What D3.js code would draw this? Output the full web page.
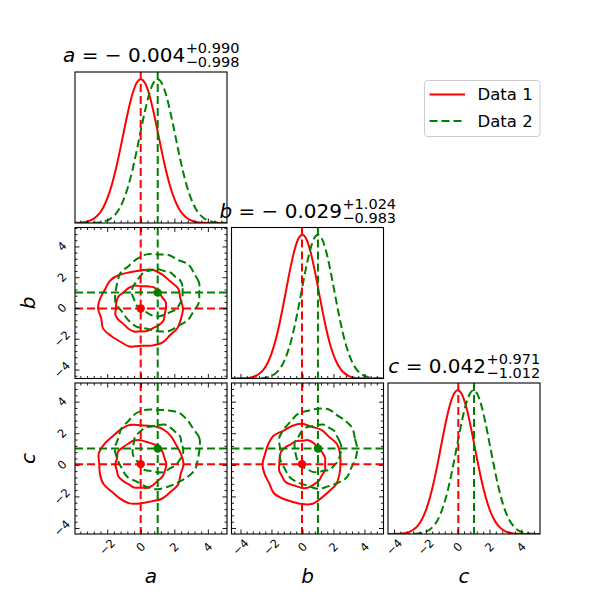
<!DOCTYPE html>
<html>
<head>
<meta charset="utf-8">
<script src="https://cdn.jsdelivr.net/npm/d3@7"></script>
<style>
  body { margin: 0; background: #fff; }
  svg { display: block; font-family: "DejaVu Sans", sans-serif; }
</style>
</head>
<body>
<div id="chart"></div>
<script>
// parameters and axis extents
const params = ["a", "b", "c"];
const extents = [[-3.92, 5.14], [-4.58, 5.23], [-4.38, 5.18]];
const majorTicks = [-4, -2, 0, 2, 4];
const minorStep = 0.4;

const seriesNames = ["Data 1", "Data 2"];
const colors = ["#ff0000", "#008000"];
const means1 = [-0.004, -0.029, 0.042];
const means2 = [1.01, 1.0, 1.03];
const errUp = [0.990, 1.024, 0.971];
const errLo = [0.998, 0.983, 1.012];

// marginal densities (relative to peak) on a 0.25 grid from -5 to 6
const gridX = d3.range(-5, 6.001, 0.25);
const densA1 = [0,0,0,0,.001,.002,.004,.009,.018,.035,.062,.105,.169,.256,.367,.499,.641,.779,.895,.973,1,.973,.895,.779,.641,.499,.367,.256,.169,.105,.062,.035,.018,.009,.004,.002,.001,0,0,0,0,0,0,0,0];
const densA2 = [0,0,0,0,0,0,0,0,.001,.002,.004,.009,.018,.035,.062,.105,.169,.256,.367,.499,.641,.779,.895,.973,1,.973,.895,.779,.641,.499,.367,.256,.169,.105,.062,.035,.018,.009,.004,.002,.001,0,0,0,0];
const densB1 = [0,0,0,0,.001,.002,.004,.009,.019,.036,.064,.108,.172,.260,.372,.504,.646,.783,.898,.975,1,.970,.890,.773,.635,.493,.362,.251,.165,.102,.060,.034,.017,.008,.004,.002,.001,0,0,0,0,0,0,0,0];
const densB2 = [0,0,0,0,0,0,0,0,.001,.002,.004,.009,.018,.035,.062,.105,.169,.256,.367,.499,.641,.779,.895,.973,1,.973,.895,.779,.641,.499,.367,.256,.169,.105,.062,.035,.018,.009,.004,.002,.001,0,0,0,0];
const densC1 = [0,0,0,0,.001,.002,.004,.008,.017,.033,.059,.101,.164,.250,.361,.493,.636,.775,.892,.971,1,.976,.900,.785,.648,.506,.374,.262,.174,.109,.065,.037,.019,.009,.004,.002,.001,0,0,0,0,0,0,0,0];
const densC2 = [0,0,0,0,0,0,0,0,0,.001,.003,.007,.015,.031,.057,.099,.162,.249,.361,.494,.637,.776,.893,.972,1,.971,.891,.773,.634,.491,.358,.246,.159,.097,.056,.030,.015,.007,.003,.001,0,0,0,0,0];
const dens = [[densA1, densA2], [densB1, densB2], [densC1, densC2]];

// contour radii (68% and 95%) at 24 angles, every 15 degrees
const angles = [0,15,30,45,60,75,90,105,120,135,150,165,180,195,210,225,240,255,270,285,300,315,330,345];
const abRed68 = [1.50,1.55,1.47,1.52,1.58,1.49,1.45,1.53,1.51,1.46,1.54,1.50,1.48,1.56,1.51,1.44,1.50,1.55,1.49,1.52,1.47,1.53,1.57,1.48];
const abRed95 = [2.52,2.45,2.58,2.49,2.55,2.61,2.47,2.43,2.53,2.57,2.46,2.50,2.54,2.44,2.59,2.51,2.48,2.56,2.42,2.50,2.57,2.47,2.53,2.49];
const abGreen68 = [1.48,1.53,1.56,1.47,1.51,1.45,1.54,1.50,1.57,1.49,1.46,1.52,1.55,1.48,1.50,1.53,1.44,1.51,1.56,1.49,1.47,1.54,1.50,1.52];
const abGreen95 = [2.47,2.55,2.50,2.59,2.44,2.53,2.48,2.57,2.51,2.45,2.56,2.49,2.52,2.60,2.46,2.50,2.55,2.43,2.51,2.58,2.48,2.53,2.46,2.54];
const acRed68 = [1.53,1.47,1.51,1.56,1.48,1.45,1.52,1.55,1.49,1.50,1.57,1.46,1.51,1.48,1.54,1.50,1.46,1.53,1.49,1.55,1.51,1.47,1.52,1.50];
const acRed95 = [2.55,2.48,2.44,2.53,2.58,2.50,2.46,2.56,2.49,2.43,2.52,2.59,2.47,2.51,2.55,2.45,2.50,2.57,2.48,2.44,2.53,2.50,2.58,2.46];
const acGreen68 = [1.51,1.46,1.54,1.49,1.53,1.57,1.48,1.45,1.52,1.50,1.55,1.47,1.49,1.53,1.46,1.51,1.56,1.48,1.50,1.54,1.45,1.52,1.49,1.55];
const acGreen95 = [2.50,2.57,2.46,2.52,2.60,2.49,2.45,2.54,2.58,2.47,2.51,2.44,2.56,2.50,2.48,2.55,2.43,2.52,2.57,2.49,2.46,2.53,2.59,2.48];
const bcRed68 = [1.49,1.54,1.50,1.46,1.53,1.57,1.48,1.51,1.45,1.52,1.56,1.49,1.47,1.53,1.50,1.55,1.48,1.44,1.51,1.54,1.49,1.52,1.46,1.53];
const bcRed95 = [2.48,2.54,2.59,2.46,2.51,2.45,2.56,2.50,2.43,2.57,2.52,2.47,2.55,2.49,2.44,2.58,2.51,2.46,2.53,2.60,2.48,2.45,2.54,2.50];
const bcGreen68 = [1.52,1.48,1.45,1.53,1.50,1.56,1.49,1.47,1.54,1.51,1.46,1.55,1.50,1.48,1.53,1.57,1.47,1.51,1.49,1.45,1.54,1.50,1.52,1.48];
const bcGreen95 = [2.53,2.47,2.56,2.50,2.44,2.58,2.52,2.48,2.55,2.46,2.51,2.59,2.45,2.53,2.49,2.57,2.50,2.44,2.55,2.48,2.52,2.61,2.47,2.51];
// key: "col,row"
const contours = {
  "0,1": [[abRed68, abRed95], [abGreen68, abGreen95]],
  "0,2": [[acRed68, acRed95], [acGreen68, acGreen95]],
  "1,2": [[bcRed68, bcRed95], [bcGreen68, bcGreen95]],
};

const width = 600, height = 600;
const padLeft = 75, padTop = 72, pw = 152, ph = 151, gap = 4.5;
const dash = "8,4";

const svg = d3.select("#chart").append("svg")
  .attr("width", width).attr("height", height);

const means = [means1, means2];

function tickSets(ext) {
  const major = majorTicks.filter((v) => v >= ext[0] && v <= ext[1]);
  const minor = d3.range(Math.ceil(ext[0] / minorStep) * minorStep, ext[1], minorStep)
    .filter((v) => major.every((m) => Math.abs(m - v) > 1e-6));
  return { major, minor };
}

function addTicks(g, axisFn, scale, ext, size, offset) {
  const t = tickSets(ext);
  const ga = g.append("g").attr("transform", offset);
  ga.append("g").call(axisFn(scale).tickValues(t.minor).tickSize(-2.5).tickFormat(""));
  ga.append("g").call(axisFn(scale).tickValues(t.major).tickSize(-size).tickFormat(""));
  ga.selectAll(".domain").remove();
  ga.selectAll("line").attr("stroke", "#000").attr("stroke-width", 0.9);
  return t.major;
}

for (let row = 0; row < 3; row++) {
  for (let col = 0; col <= row; col++) {
    const x0 = padLeft + col * (pw + gap);
    const y0 = padTop + row * (ph + gap);
    const x = d3.scaleLinear().domain(extents[col]).range([x0, x0 + pw]);
    const diag = row === col;
    const y = diag
      ? d3.scaleLinear().domain([0, 1.05]).range([y0 + ph, y0])
      : d3.scaleLinear().domain(extents[row]).range([y0 + ph, y0]);

    const clipId = `clip-${col}-${row}`;
    svg.append("clipPath").attr("id", clipId)
      .append("rect").attr("x", x0).attr("y", y0).attr("width", pw).attr("height", ph);
    const g = svg.append("g").attr("clip-path", `url(#${clipId})`);

    if (diag) {
      const line = d3.line()
        .x((d, i) => x(gridX[i]))
        .y((d) => y(d))
        .curve(d3.curveMonotoneX);
      [0, 1].forEach((s) => {
        g.append("path")
          .attr("d", line(dens[col][s]))
          .attr("fill", "none")
          .attr("stroke", colors[s])
          .attr("stroke-width", 2)
          .attr("stroke-dasharray", s === 1 ? dash : null);
      });
      [0, 1].forEach((s) => {
        g.append("line")
          .attr("x1", x(means[s][col])).attr("x2", x(means[s][col]))
          .attr("y1", y0).attr("y2", y0 + ph)
          .attr("stroke", colors[s]).attr("stroke-width", 2)
          .attr("stroke-dasharray", dash);
      });
    } else {
      const cset = contours[`${col},${row}`];
      const cline = d3.line().curve(d3.curveCatmullRomClosed);
      [0, 1].forEach((s) => {
        const mx = means[s][col], my = means[s][row];
        cset[s].forEach((radii) => {
          const pts = radii.map((r, i) => {
            const t = (angles[i] * Math.PI) / 180;
            return [x(mx + r * Math.cos(t)), y(my + r * Math.sin(t))];
          });
          g.append("path")
            .attr("d", cline(pts))
            .attr("fill", "none")
            .attr("stroke", colors[s])
            .attr("stroke-width", 2)
            .attr("stroke-dasharray", s === 1 ? dash : null);
        });
      });
      [0, 1].forEach((s) => {
        const mx = means[s][col], my = means[s][row];
        g.append("line")
          .attr("x1", x(mx)).attr("x2", x(mx)).attr("y1", y0).attr("y2", y0 + ph)
          .attr("stroke", colors[s]).attr("stroke-width", 2).attr("stroke-dasharray", dash);
        g.append("line")
          .attr("x1", x0).attr("x2", x0 + pw).attr("y1", y(my)).attr("y2", y(my))
          .attr("stroke", colors[s]).attr("stroke-width", 2).attr("stroke-dasharray", dash);
      });
      [0, 1].forEach((s) => {
        g.append("circle")
          .attr("cx", x(means[s][col])).attr("cy", y(means[s][row]))
          .attr("r", 4.2).attr("fill", colors[s]);
      });
    }

    // ticks (inward)
    const ax = svg.append("g");
    const xMajor = addTicks(ax, d3.axisBottom, x, extents[col], 4.5, `translate(0,${y0 + ph})`);
    if (!diag) {
      addTicks(ax, d3.axisTop, x, extents[col], 4.5, `translate(0,${y0})`);
      addTicks(ax, d3.axisLeft, y, extents[row], 4.5, `translate(${x0},0)`);
      addTicks(ax, d3.axisRight, y, extents[row], 4.5, `translate(${x0 + pw},0)`);
    }

    // frame
    svg.append("rect")
      .attr("x", x0).attr("y", y0).attr("width", pw).attr("height", ph)
      .attr("fill", "none").attr("stroke", "#000").attr("stroke-width", 1.1);

    // tick labels
    if (row === 2) {
      const ly = y0 + ph + 13;
      xMajor.forEach((v) => {
        svg.append("text")
          .attr("x", x(v)).attr("y", ly).attr("dy", "0.35em")
          .attr("text-anchor", "middle").attr("font-size", 11.5)
          .attr("transform", `rotate(-45,${x(v)},${ly})`)
          .text(d3.format("")(v).replace("-", "\u2212"));
      });
      svg.append("text")
        .attr("x", x0 + pw / 2).attr("y", 583)
        .attr("text-anchor", "middle").attr("font-size", 20)
        .attr("font-style", "italic")
        .text(params[col]);
    }
    if (col === 0 && row > 0) {
      const lx = x0 - 13;
      tickSets(extents[row]).major.forEach((v) => {
        svg.append("text")
          .attr("x", lx).attr("y", y(v)).attr("dy", "0.35em")
          .attr("text-anchor", "middle").attr("font-size", 11.5)
          .attr("transform", `rotate(-45,${lx},${y(v)})`)
          .text(d3.format("")(v).replace("-", "\u2212"));
      });
      svg.append("text")
        .attr("transform", `translate(35,${y0 + ph / 2}) rotate(-90)`)
        .attr("text-anchor", "middle").attr("font-size", 20)
        .attr("font-style", "italic")
        .text(params[row]);
    }

    // title on diagonal
    if (diag) {
      const tg = svg.append("g");
      const base = y0 - 10;
      const main = tg.append("text").attr("x", 0).attr("y", base).attr("font-size", 20);
      main.append("tspan").attr("font-style", "italic").text(params[col]);
      const m = means1[col];
      main.append("tspan").text(" = " + (m < 0 ? "\u2212 " : "") + Math.abs(m).toFixed(3));
      const mw = main.node().getComputedTextLength();
      const sup = tg.append("text").attr("x", mw + 0.5).attr("y", base - 9)
        .attr("font-size", 14.5).text("+" + errUp[col].toFixed(3));
      const sub = tg.append("text").attr("x", mw + 0.5).attr("y", base + 5)
        .attr("font-size", 14.5).text("\u2212" + errLo[col].toFixed(3));
      const tw = mw + Math.max(sup.node().getComputedTextLength(), sub.node().getComputedTextLength());
      tg.attr("transform", `translate(${x0 + pw / 2 - tw / 2},0)`);
    }
  }
}

// legend
const legend = svg.append("g");
legend.append("rect")
  .attr("x", 424.5).attr("y", 80.5).attr("width", 115.5).attr("height", 56)
  .attr("rx", 3).attr("fill", "#fff").attr("stroke", "#cccccc");
seriesNames.forEach((name, i) => {
  const ly = 94.5 + i * 26.5;
  legend.append("line")
    .attr("x1", 429.5).attr("x2", 465).attr("y1", ly).attr("y2", ly)
    .attr("stroke", colors[i]).attr("stroke-width", 2)
    .attr("stroke-dasharray", i === 1 ? dash : null);
  legend.append("text")
    .attr("x", 477.5).attr("y", ly).attr("dy", "0.36em")
    .attr("font-size", 16.5).text(name);
});
</script>
</body>
</html>
